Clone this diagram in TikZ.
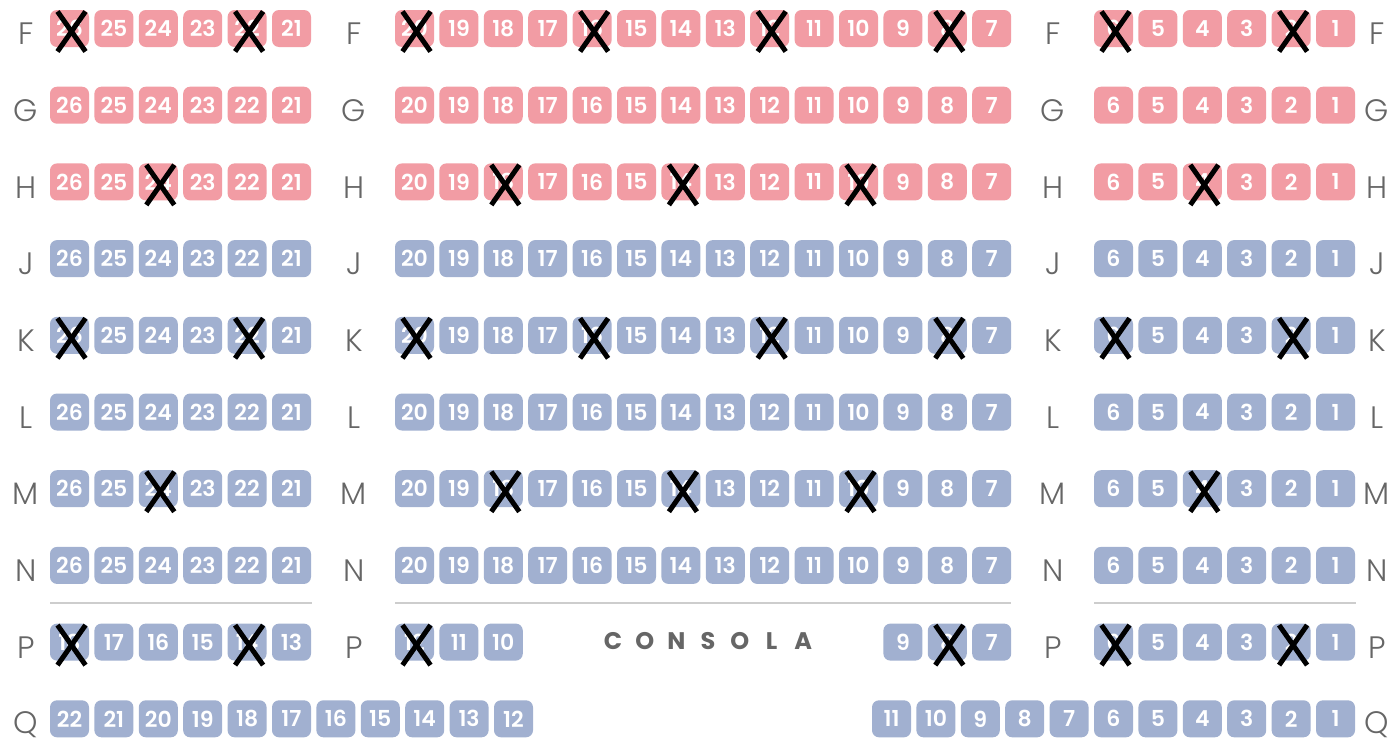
\documentclass[tikz,border=0pt]{standalone}
\usepackage{fontspec}
\setmainfont{Poppins}
\newfontfamily\labfont{Poppins Light}
\newfontfamily\numfont{Poppins SemiBold}
\definecolor{pinkseat}{RGB}{242,156,164}
\definecolor{blueseat}{RGB}{161,176,208}
\definecolor{lab}{RGB}{102,102,102}
\definecolor{sepline}{RGB}{205,205,205}
\tikzset{
  seat/.style={fill=#1, draw=none, rounded corners=7pt, minimum width=39pt, minimum height=37pt, inner sep=0pt, text=white, font=\fontsize{22}{22}\numfont},
  rowlab/.style={text=lab, font=\fontsize{31}{31}\labfont, inner sep=0pt},
  crossline/.style={line width=5pt, black},
  sep/.style={draw=sepline, line width=1.6pt},
  consola/.style={text=lab, font=\fontsize{24}{24}\selectfont\bfseries, inner sep=0pt},
}
\newcommand{\xmark}[1]{%
  \draw[crossline] ([shift={(-12,-17)}]#1.center) -- ([shift={(16,23)}]#1.center);
  \draw[crossline] ([shift={(16,-17)}]#1.center) -- ([shift={(-12,23)}]#1.center);
}
\begin{document}
\begin{tikzpicture}[x=1pt,y=-1pt]
\useasboundingbox[fill=white] (0,0) rectangle (1398,742);
% rows F..N
\foreach \r/\y/\c in {F/28.5/pinkseat,G/105.2/pinkseat,H/181.9/pinkseat,J/258.6/blueseat,K/335.3/blueseat,L/412/blueseat,M/488.7/blueseat,N/565.4/blueseat}{
  \foreach \n in {26,...,21}{
    \node[seat=\c] (s-\r-\n) at ({69.5+(26-\n)*44.4},\y) {\n};
  }
  \foreach \n in {20,...,7}{
    \node[seat=\c] (s-\r-\n) at ({414.5+(20-\n)*44.4},\y) {\n};
  }
  \foreach \n in {6,...,1}{
    \node[seat=\c] (s-\r-\n) at ({1113.5+(6-\n)*44.4},\y) {\n};
  }
  \node[rowlab] (la-\r) at (26,\y+5.5) {\r};
  \node[rowlab] (lb-\r) at (354,\y+5.5) {\r};
  \node[rowlab] (lc-\r) at (1053,\y+5.5) {\r};
  \node[rowlab] (ld-\r) at (1377,\y+5.5) {\r};
}
% separators
\coordinate (sa1) at (50,603); \coordinate (sa2) at (312,603);
\coordinate (sb1) at (395,603); \coordinate (sb2) at (1011,603);
\coordinate (sc1) at (1094,603); \coordinate (sc2) at (1356,603);
\draw[sep] (sa1) -- (sa2);
\draw[sep] (sb1) -- (sb2);
\draw[sep] (sc1) -- (sc2);
% row P
\foreach \n in {18,...,13}{
  \node[seat=blueseat] (s-P-\n) at ({69.5+(18-\n)*44.4},642.1) {\n};
}
\foreach \n in {12,11,10}{
  \node[seat=blueseat] (s-P-\n) at ({414.5+(12-\n)*44.4},642.1) {\n};
}
\foreach \n in {9,8,7}{
  \node[seat=blueseat] (s-P-\n) at ({414.5+(20-\n)*44.4},642.1) {\n};
}
\foreach \n in {6,...,1}{
  \node[seat=blueseat] (s-P-\n) at ({1113.5+(6-\n)*44.4},642.1) {\n};
}
\node[rowlab] (la-P) at (26,647.6) {P};
\node[rowlab] (lb-P) at (354,647.6) {P};
\node[rowlab] (lc-P) at (1053,647.6) {P};
\node[rowlab] (ld-P) at (1377,647.6) {P};
\foreach \l [count=\i from 0] in {C,O,N,S,O,L,A}{
  \node[consola] (cons-\i) at ({613+\i*31.7},641.5) {\l};
}
% row Q
\foreach \n in {22,...,12}{
  \node[seat=blueseat] (q-\n) at ({69.5+(22-\n)*44.4},718.8) {\n};
}
\foreach \n in {11,...,1}{
  \node[seat=blueseat] (qr-\n) at ({1113.5+(6-\n)*44.4},718.8) {\n};
}
\node[rowlab] (la-Q) at (26,724.3) {Q};
\node[rowlab] (ld-Q) at (1377,724.3) {Q};
% crosses
\foreach \r in {F,K}{
  \foreach \n in {26,22,20,16,12,8,6,2}{ \xmark{s-\r-\n} }
}
\foreach \r in {H,M}{
  \foreach \n in {24,18,14,10,4}{ \xmark{s-\r-\n} }
}
\foreach \n in {18,14,12,8,6,2}{ \xmark{s-P-\n} }
\end{tikzpicture}
\end{document}
